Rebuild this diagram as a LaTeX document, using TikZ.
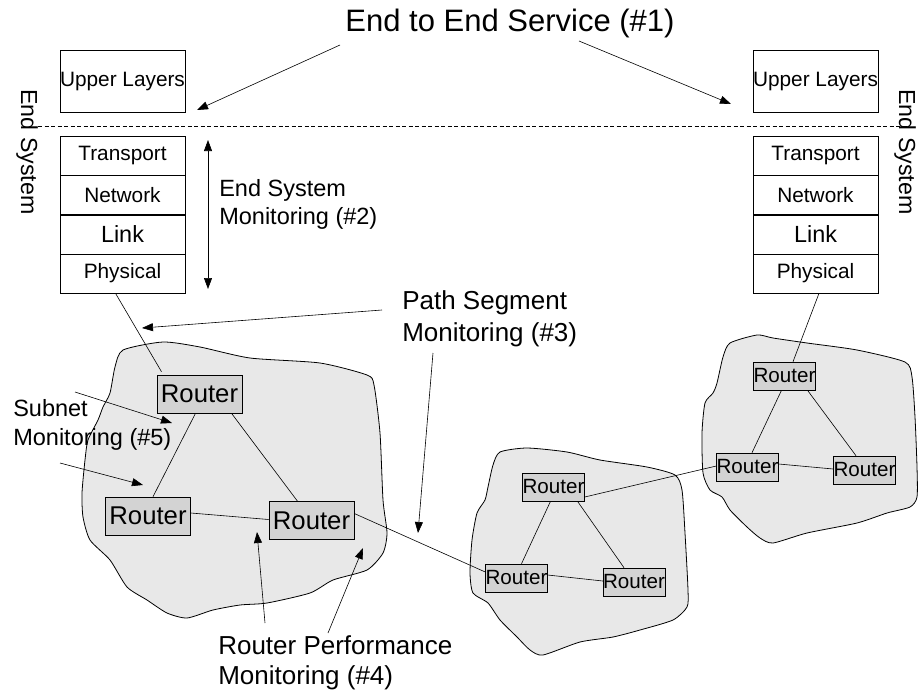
\documentclass[tikz,border=0pt]{standalone}
\usepackage{fontspec}
\setmainfont{Liberation Sans}
\usetikzlibrary{arrows.meta}

\definecolor{cloudgray}{RGB}{232,232,232}
\definecolor{routergray}{RGB}{211,211,211}

\tikzset{
  layer/.style={draw, minimum width=125pt, minimum height=39pt, inner sep=0pt, font=\fontsize{20.8}{25}\selectfont},
  router/.style={draw, fill=routergray, minimum width=85pt, minimum height=38pt, inner sep=0pt, font=\fontsize{25.7}{30}\selectfont},
  smallrouter/.style={draw, fill=routergray, minimum width=61pt, minimum height=28pt, inner sep=0pt, font=\fontsize{20.6}{24}\selectfont},
  note/.style={align=left, anchor=west, inner sep=0pt},
  subnet/.style={draw, fill=cloudgray, line width=0.8pt},
  pointer/.style={-{Triangle[length=11pt,width=8pt]}},
}

\begin{document}
\begin{tikzpicture}[x=1pt, y=-1pt, line width=0.6pt]
			\useasboundingbox (0,0) rectangle (918,694);
			
			% subnets
			\draw[subnet] plot[smooth cycle, tension=0.4] coordinates {(123,350) (163,342) (200,347) (250,358) (320,363) (367,375) (374,385) (380,433) (383,500) (387,533) (383,553) (367,570) (333,580) (310,593) (267,603) (240,605) (213,610) (187,618) (167,613) (147,600) (127,587) (110,560) (90,540) (83,517) (82,493) (85,460) (88,440) (98,420) (103,407) (110,393) (115,367)};
			\draw[subnet] plot[smooth cycle, tension=0.4] coordinates {(500,452) (527,448) (567,452) (600,460) (647,467) (675,475) (682,490) (685,533) (688,590) (687,607) (673,620) (640,630) (613,637) (580,642) (543,655) (530,650) (517,637) (500,620) (488,603) (473,593) (470,573) (472,540) (477,513) (485,500) (488,487) (493,465)};
			\draw[subnet] plot[smooth cycle, tension=0.4] coordinates {(730,343) (757,335) (773,338) (807,343) (857,350) (905,362) (912,377) (915,417) (917,467) (917,497) (910,507) (887,513) (857,523) (807,533) (773,543) (760,538) (747,527) (730,510) (722,497) (710,490) (703,473) (702,433) (705,403) (713,393) (717,383) (723,357)};
			
			\node[font=\fontsize{31}{36}\selectfont] (title) at (510,23) {End to End Service (\#1)};
			
			% left end system
			\node[layer, minimum height=62pt] (lup) at (122.5,81) {Upper Layers};
			\node[layer] (ltra) at (122.5,155.5) {Transport};
			\node[layer] (lnet) at (122.5,195) {Network};
			\node[layer, font=\fontsize{23.4}{28}\selectfont] (llnk) at (122.5,234.5) {Link};
			\node[layer] (lphy) at (122.5,273.5) {Physical};
			\node[rotate=-90, font=\fontsize{23.2}{28}\selectfont, inner sep=0pt] (lsys) at (27,152) {End System};
			
			% right end system
			\node[layer, minimum height=62pt] (rup) at (815.5,81) {Upper Layers};
			\node[layer] (rtra) at (815.5,155.5) {Transport};
			\node[layer] (rnet) at (815.5,195) {Network};
			\node[layer, font=\fontsize{23.4}{28}\selectfont] (rlnk) at (815.5,234.5) {Link};
			\node[layer] (rphy) at (815.5,273.5) {Physical};
			\node[rotate=-90, font=\fontsize{23.2}{28}\selectfont, inner sep=0pt] (rsys) at (905,152) {End System};
			
			\draw[dash pattern=on 4pt off 2.5pt] (38,126) -- (907,126);
			
			% routers
			\node[router] (ra) at (199.5,394) {Router};
			\node[router] (rb) at (148,516) {Router};
			\node[router] (rc) at (311.5,520.5) {Router};
			
			\node[smallrouter] (ma) at (553.5,487) {Router};
			\node[smallrouter] (mb) at (516.5,578) {Router};
			\node[smallrouter] (mc) at (634,582) {Router};
			
			\node[smallrouter] (na) at (784.5,376) {Router};
			\node[smallrouter] (nb) at (747.5,467) {Router};
			\node[smallrouter] (nc) at (864.5,470) {Router};
			
			\draw ([xshift=-7pt]lphy.south) -- ([xshift=-38pt,yshift=3pt]ra.north);
			\draw ([xshift=-4pt]ra.south) -- ([xshift=5pt]rb.north);
			\draw ([xshift=32pt]ra.south) -- ([xshift=-14pt]rc.north);
			\draw ([yshift=3pt]rb.east) -- ([yshift=1pt]rc.west);
			\draw ([yshift=7pt]rc.east) -- ([yshift=6pt]mb.west);
			
			\draw ([xshift=-3pt]ma.south) -- ([xshift=5pt]mb.north);
			\draw ([xshift=24pt]ma.south) -- ([xshift=-10pt]mc.north);
			\draw ([yshift=3pt]mb.east) -- ([yshift=1pt]mc.west);
			\draw ([yshift=-10pt]ma.east) -- ([yshift=1pt]nb.west);
			
			\draw ([xshift=3.5pt]rphy.south) -- ([xshift=8.5pt]na.north);
			\draw ([xshift=-3pt]na.south) -- ([xshift=4.5pt]nb.north);
			\draw ([xshift=23pt]na.south) -- ([xshift=-8.5pt]nc.north);
			\draw ([yshift=3pt]nb.east) -- ([yshift=1pt]nc.west);
			
			% monitoring labels
			\node[note, font=\fontsize{23.5}{28}\selectfont] (esm) at (219,204) {End System\\Monitoring (\#2)};
			\node[note, font=\fontsize{26}{32}\selectfont] (psm) at (402,319) {Path Segment\\Monitoring (\#3)};
			\node[note, font=\fontsize{23.5}{29}\selectfont] (snm) at (13,425) {Subnet\\Monitoring (\#5)};
			\node[note, font=\fontsize{26}{30}\selectfont] (rpm) at (218,663) {Router Performance\\Monitoring (\#4)};
			
			\coordinate (e1) at (197,110);
			\coordinate (e2) at (731,104);
			\coordinate (es1) at (208,140);
			\coordinate (es2) at (208,289);
			\coordinate (p1) at (142,328);
			\coordinate (p2) at (418,533);
			\coordinate (s1) at (172,423);
			\coordinate (s2) at (143,485);
			\coordinate (q1) at (257,532);
			\coordinate (q2) at (363,548);
			
			\draw[pointer] (340,45) -- (e1);
			\draw[pointer] (579,41) -- (e2);
			\draw[{Triangle[length=11pt,width=8pt]}-{Triangle[length=11pt,width=8pt]}] (es1) -- (es2);
			\draw[pointer] (382,310) -- (p1);
			\draw[pointer] (433,353) -- (p2);
			\draw[pointer] (75,392) -- (s1);
			\draw[pointer] (60,463) -- (s2);
			\draw[pointer] (265,623) -- (q1);
			\draw[pointer] (328,633) -- (q2);
			
		\end{tikzpicture}
\end{document}
